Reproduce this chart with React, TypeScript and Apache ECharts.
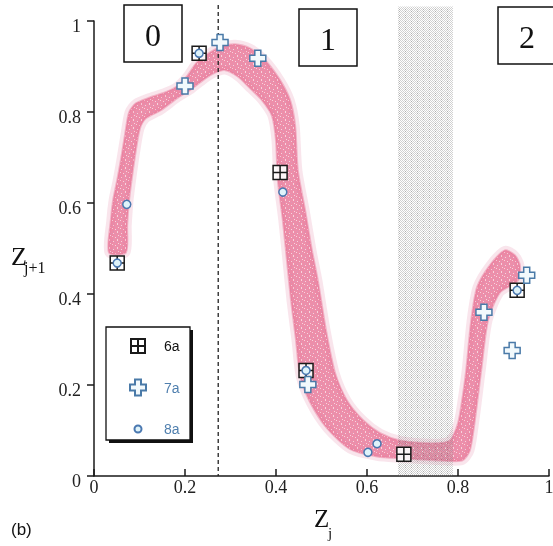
import React, { useEffect, useRef } from 'react';
import * as echarts from 'echarts';

// ---- data ----
const xTickLabels = ['0', '0.2', '0.4', '0.6', '0.8', '1'];
const yTickLabels = ['0', '0.2', '0.4', '0.6', '0.8', '1'];

// markers: [z_j, z_{j+1}]
const series6a: [number, number][] = [
  [0.051, 0.468], [0.231, 0.929], [0.409, 0.667], [0.466, 0.232], [0.681, 0.048], [0.930, 0.408],
];
const series7a: [number, number][] = [
  [0.200, 0.857], [0.277, 0.953], [0.360, 0.918], [0.470, 0.201], [0.857, 0.360], [0.919, 0.276], [0.951, 0.441],
];
const series8a: [number, number][] = [
  [0.051, 0.468], [0.231, 0.929], [0.466, 0.232], [0.930, 0.408], [0.072, 0.597], [0.415, 0.624], [0.602, 0.052], [0.622, 0.071],
];

// outline of the dense cloud of iterates (traced around the band)
const cloudOutline: [number, number][] = [
  [0.033, 0.491], [0.037, 0.562], [0.042, 0.606], [0.051, 0.650], [0.059, 0.694], [0.068, 0.749],
  [0.077, 0.799], [0.092, 0.819], [0.123, 0.832], [0.156, 0.843], [0.182, 0.856], [0.204, 0.878],
  [0.226, 0.909], [0.255, 0.931], [0.281, 0.944], [0.310, 0.949], [0.343, 0.940], [0.376, 0.914],
  [0.409, 0.870], [0.431, 0.826], [0.442, 0.771], [0.448, 0.672], [0.464, 0.584], [0.479, 0.496],
  [0.492, 0.430], [0.510, 0.320], [0.530, 0.226], [0.556, 0.166], [0.591, 0.123], [0.629, 0.094],
  [0.673, 0.078], [0.745, 0.072], [0.782, 0.078], [0.800, 0.116], [0.809, 0.166], [0.818, 0.232],
  [0.829, 0.342], [0.842, 0.415], [0.870, 0.463], [0.903, 0.496], [0.925, 0.485], [0.936, 0.463],
  [0.932, 0.430], [0.892, 0.403], [0.866, 0.342], [0.851, 0.232], [0.837, 0.122], [0.826, 0.056],
  [0.809, 0.034], [0.760, 0.034], [0.673, 0.039], [0.622, 0.043], [0.563, 0.059], [0.512, 0.105],
  [0.475, 0.162], [0.453, 0.221], [0.444, 0.298], [0.433, 0.386], [0.424, 0.474], [0.415, 0.562],
  [0.404, 0.650], [0.400, 0.737], [0.391, 0.792], [0.369, 0.826], [0.343, 0.852], [0.316, 0.878],
  [0.288, 0.892], [0.259, 0.883], [0.233, 0.865], [0.211, 0.848], [0.182, 0.830], [0.147, 0.804],
  [0.114, 0.786], [0.101, 0.764], [0.092, 0.716], [0.084, 0.661], [0.077, 0.606], [0.073, 0.551],
  [0.070, 0.491],
];

// annotations
const dashedX = 0.273;
const bandRange: [number, number] = [0.668, 0.789];
const annotationTop = 1.032;

const SERIF = "'Liberation Serif', 'Times New Roman', serif";
const SANS = "'Liberation Sans', Arial, sans-serif";

// fixed speckle tile used as the texture of the cloud ('X' = dense dot, 'o' = dark dot, '.' = light gap)
const speckleTile = [
  'XXXXX.XX',
  'X.XXXXXo',
  'XXXoXXXX',
  'XXXXXX.X',
  '.XXXXXXX',
  'XXX.XoXX',
  'XXXXXXXX',
  'XoXXX.XX',
];

function makeTile(rows: string[], colors: Record<string, string>) {
  const c = document.createElement('canvas');
  c.width = rows[0].length; c.height = rows.length;
  const ctx = c.getContext('2d')!;
  rows.forEach((row, j) => {
    for (let i = 0; i < row.length; i++) {
      const col = colors[row[i]];
      if (col) { ctx.fillStyle = col; ctx.fillRect(i, j, 1, 1); }
    }
  });
  return c;
}

export default function App() {
  const ref = useRef<HTMLDivElement>(null);
  useEffect(() => {
    const chart = echarts.init(ref.current!, null, { renderer: 'svg' });
    const sq = 'path://M0,0H14V14H0Z M7,0V14 M0,7H14';
    const plus = 'path://M5,0H11V5H16V11H11V16H5V11H0V5H5Z';
    const sqIcon = 'path://M0,0M16,16M1,1H15V15H1Z M8,1V15 M1,8H15';
    const circIcon = 'path://M0,0M16,16M4.5,8a3.5,3.5 0 1,0 7,0a3.5,3.5 0 1,0 -7,0';

    const cloudTile = makeTile(speckleTile, {
      X: 'rgba(232,114,148,0.8)',
      o: 'rgba(205,115,160,0.75)',
      '.': 'rgba(242,175,195,0.55)',
    });
    const bandTile = makeTile(
      ['X.X.X.', '.X.X.X', 'X.X.X.', '.X.D.X', 'X.X.X.', '.X.D.X'],
      { X: 'rgba(140,140,140,0.4)', D: 'rgba(100,100,100,0.5)' },
    );

    chart.setOption({
      animation: false,
      grid: { left: 94, top: 21, width: 455, height: 455, containLabel: false, outerBoundsMode: 'none' },
      xAxis: {
        type: 'value', min: 0, max: 1, interval: 0.2,
        axisLine: { show: true, onZero: false, lineStyle: { color: '#1a1a1a', width: 1.5 } },
        axisTick: { show: true, inside: true, length: 7, lineStyle: { color: '#1a1a1a', width: 1.5 } },
        axisLabel: {
          fontFamily: SERIF, fontSize: 18, color: '#222', margin: 2,
          formatter: (v: number) => xTickLabels[Math.round(v / 0.2)] ?? String(v),
        },
        splitLine: { show: false },
      },
      yAxis: {
        type: 'value', min: 0, max: 1, interval: 0.2,
        axisLine: { show: true, onZero: false, lineStyle: { color: '#1a1a1a', width: 1.5 } },
        axisTick: { show: true, inside: false, length: 7, lineStyle: { color: '#1a1a1a', width: 1.5 } },
        axisLabel: {
          fontFamily: SERIF, fontSize: 18, color: '#222', margin: 13,
          verticalAlign: 'top', lineHeight: 9,
          formatter: (v: number) => yTickLabels[Math.round(v / 0.2)] ?? String(v),
        },
        splitLine: { show: false },
      },
      legend: {
        left: 129, top: 337, orient: 'vertical', itemWidth: 16, itemHeight: 16, itemGap: 23.5,
        padding: 0, selectedMode: false, z: 8,
        textStyle: { fontFamily: SANS, fontSize: 14, padding: [0, 0, 0, 13] },
        data: [
          { name: '6a', icon: sqIcon, textStyle: { color: '#111' } },
          { name: '7a', icon: plus, textStyle: { color: '#4f7fae' } },
          { name: '8a', icon: circIcon, textStyle: { color: '#4f7fae' } },
        ],
      },
      series: [
        {
          type: 'custom', name: 'cloud', silent: true, z: 2,
          data: [[0, 0]],
          renderItem: (_params: any, api: any) => {
            const pts = cloudOutline.map((p) => api.coord(p));
            return {
              type: 'group',
              children: [
                {
                  type: 'polygon',
                  shape: { points: pts, smooth: 0.25 },
                  style: {
                    fill: 'rgba(0,0,0,0)',
                    stroke: 'rgba(225,125,160,0.2)',
                    lineWidth: 9,
                    lineJoin: 'round',
                  },
                },
                {
                  type: 'polygon',
                  shape: { points: pts, smooth: 0.25 },
                  style: {
                    fill: { image: cloudTile, repeat: 'repeat', imageWidth: 8, imageHeight: 8 },
                    stroke: 'rgba(232,120,152,0.45)',
                    lineWidth: 2,
                    lineJoin: 'round',
                  },
                },
              ],
            };
          },
        },
        {
          type: 'scatter', name: '6a', data: series6a, symbol: sq, symbolSize: 14, z: 5,
          itemStyle: { color: 'rgba(255,255,255,0.9)', borderColor: '#1a1a1a', borderWidth: 1.5, opacity: 1 },
        },
        {
          type: 'scatter', name: '7a', data: series7a, symbol: plus, symbolSize: 16, z: 5,
          itemStyle: { color: '#f2f9fc', borderColor: '#4a7aa8', borderWidth: 1.5, opacity: 1 },
        },
        {
          type: 'scatter', name: '8a', data: series8a, symbol: 'circle', symbolSize: 8, z: 6,
          itemStyle: { color: '#dff3fa', borderColor: '#4a78b0', borderWidth: 1.5, opacity: 1 },
        },
      ],
    });

    const toPx = (x: number, y: number) => chart.convertToPixel({ gridIndex: 0 }, [x, y]) as number[];

    const b0 = toPx(bandRange[0], 0);
    const b1 = toPx(bandRange[1], annotationTop);
    const d0 = toPx(dashedX, 0);
    const d1 = toPx(dashedX, annotationTop + 0.003);

    const box = (x: number, y: number, label: string) => ({
      type: 'group', x, y, z: 6,
      children: [
        { type: 'rect', z: 6, shape: { x: 0, y: 0, width: 58, height: 57 }, style: { fill: '#fff', stroke: '#111', lineWidth: 1.5 } },
        { type: 'text', z: 7, style: { text: label, x: 29, y: 30, align: 'center', verticalAlign: 'middle', font: `32px ${SERIF}`, fill: '#111' } },
      ],
    });

    chart.setOption({
      graphic: [
        {
          type: 'rect', z: 3, silent: true,
          shape: { x: b0[0], y: b1[1], width: b1[0] - b0[0], height: b0[1] - b1[1] },
          style: { fill: { image: bandTile, repeat: 'repeat', imageWidth: 6, imageHeight: 6 } as any },
        },
        {
          type: 'line', z: 4, silent: true,
          shape: { x1: d0[0], y1: d1[1], x2: d0[0], y2: d0[1] },
          style: { stroke: '#222', lineWidth: 1.3, lineDash: [4, 3] },
        },
        box(124, 5, '0'),
        box(299, 9, '1'),
        box(498, 7, '2'),
        // legend frame with drop shadow
        { type: 'rect', z: 6, shape: { x: 109, y: 330, width: 84, height: 113 }, style: { fill: '#111' } },
        { type: 'rect', z: 6, shape: { x: 106, y: 327, width: 84, height: 113 }, style: { fill: '#fff', stroke: '#111', lineWidth: 1.3 } },
        // axis titles
        { type: 'text', z: 6, style: { text: 'Z', x: 11, y: 243, font: `26px ${SERIF}`, fill: '#111' } },
        { type: 'text', z: 6, style: { text: 'j+1', x: 24, y: 259, font: `16px ${SERIF}`, fill: '#111' } },
        { type: 'text', z: 6, style: { text: 'Z', x: 314, y: 506, font: `25px ${SERIF}`, fill: '#111' } },
        { type: 'text', z: 6, style: { text: 'j', x: 328, y: 525, font: `15px ${SERIF}`, fill: '#111' } },
        { type: 'text', z: 6, style: { text: '(b)', x: 11, y: 521, font: `17px ${SANS}`, fill: '#111' } },
      ],
    });

    return () => chart.dispose();
  }, []);
  return <div ref={ref} style={{ position: 'fixed', left: 0, top: 0, width: 553, height: 546 }} />;
}
